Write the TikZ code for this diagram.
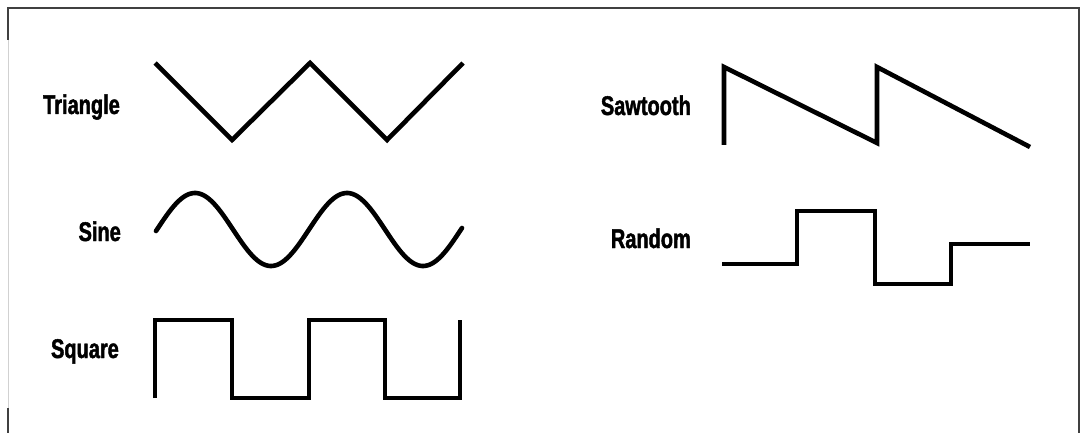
\documentclass[tikz,border=0pt]{standalone}
\usepackage{fontspec}
\newfontfamily\lblfont[FakeStretch=0.74,FakeBold=1.6]{Liberation Sans Bold}
\begin{document}
\begin{tikzpicture}[x=1pt,y=-1pt,
  wave/.style={line width=4.6pt,line join=miter,line cap=butt,black},
  lbl/.style={anchor=base east,inner sep=0pt,font=\lblfont\fontsize{27}{30}\selectfont},
  darkframe/.style={line width=1.3pt,draw=black!75},
  lightframe/.style={line width=1pt,draw=black!18}]
\useasboundingbox (0,0) rectangle (1082,433);
\fill[white] (0,0) rectangle (1082,433);
% frame
\draw[darkframe] (8,40) -- (8,8) -- (1079,8) -- (1079,433);
\draw[lightframe] (8,40) -- (8,408);
\draw[darkframe] (8,408) -- (8,433);
% labels
\node[lbl] (triangle) at (120,114) {Triangle};
\node[lbl] (sine) at (121,241) {Sine};
\node[lbl] (square) at (119,358) {Square};
\node[lbl] (sawtooth) at (691,115) {Sawtooth};
\node[lbl] (random) at (691,248) {Random};
% triangle wave
\draw[wave] (155,63) -- (232,140) -- (310,63) -- (387,140) -- (463,63);
% sine wave
\draw[wave,line cap=round] plot[domain=156:462,samples=200] (\x,{229.5-36.5*sin(2.368421*(\x-157))});
% square wave
\draw[wave] (155,398) -- (155,320) -- (232,320) -- (232,398) -- (309,398) -- (309,320)
  -- (385,320) -- (385,398) -- (460,398) -- (460,320);
% sawtooth wave
\draw[wave] (724,145) -- (724,67) -- (877,143) -- (877,67) -- (1030,147);
% random wave
\draw[wave] (722,264) -- (797,264) -- (797,211) -- (875,211) -- (875,284) -- (951,284)
  -- (951,244) -- (1030,244);
\end{tikzpicture}
\end{document}
